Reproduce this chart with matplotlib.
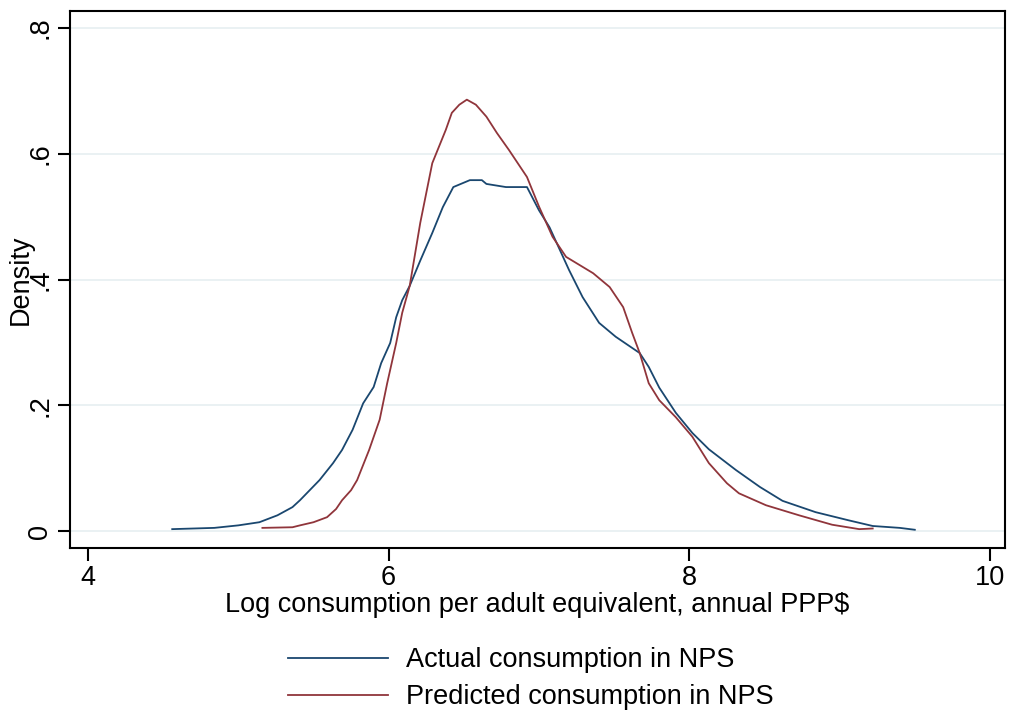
import matplotlib
matplotlib.use("Agg")
import matplotlib.pyplot as plt

# Data
actual_x = [4.56, 4.84, 5.00, 5.14, 5.26, 5.36, 5.41, 5.54, 5.63, 5.69, 5.76, 5.83,
            5.90, 5.95, 6.01, 6.05, 6.09, 6.14, 6.21, 6.29, 6.36, 6.43, 6.54, 6.62,
            6.65, 6.78, 6.92, 7.00, 7.07, 7.20, 7.29, 7.40, 7.51, 7.67, 7.73, 7.80,
            7.91, 8.02, 8.13, 8.31, 8.47, 8.62, 8.84, 9.06, 9.22, 9.40, 9.50]
actual_y = [0.003, 0.005, 0.009, 0.014, 0.025, 0.038, 0.049, 0.081, 0.108, 0.129, 0.161, 0.203,
            0.229, 0.267, 0.299, 0.340, 0.367, 0.390, 0.430, 0.474, 0.515, 0.547, 0.558, 0.558,
            0.552, 0.547, 0.547, 0.510, 0.483, 0.415, 0.372, 0.331, 0.309, 0.283, 0.261, 0.228,
            0.188, 0.156, 0.130, 0.097, 0.070, 0.048, 0.030, 0.017, 0.008, 0.005, 0.002]

pred_x = [5.16, 5.36, 5.41, 5.50, 5.59, 5.65, 5.69, 5.75, 5.79, 5.87, 5.94, 5.99,
          6.05, 6.09, 6.14, 6.21, 6.29, 6.38, 6.42, 6.47, 6.52, 6.58, 6.65, 6.72,
          6.80, 6.92, 7.00, 7.09, 7.18, 7.36, 7.47, 7.56, 7.62, 7.67, 7.73, 7.80,
          7.91, 8.02, 8.13, 8.25, 8.33, 8.51, 8.73, 8.95, 9.13, 9.22]
pred_y = [0.005, 0.006, 0.009, 0.014, 0.022, 0.035, 0.049, 0.065, 0.081, 0.129, 0.177, 0.235,
          0.299, 0.347, 0.390, 0.490, 0.585, 0.638, 0.665, 0.678, 0.686, 0.678, 0.659, 0.633,
          0.606, 0.563, 0.516, 0.468, 0.436, 0.410, 0.388, 0.356, 0.315, 0.283, 0.235, 0.208,
          0.181, 0.150, 0.108, 0.076, 0.060, 0.041, 0.025, 0.010, 0.003, 0.004]

x_ticks = [4, 6, 8, 10]
x_tick_labels = ["4", "6", "8", "10"]
y_ticks = [0, 0.2, 0.4, 0.6, 0.8]
y_tick_labels = ["0", ".2", ".4", ".6", ".8"]

labels = ["Actual consumption in NPS", "Predicted consumption in NPS"]

plt.rcParams['font.family'] = ['Liberation Sans', 'DejaVu Sans']

W, H = 1009, 715
FS = 19.5
fig = plt.figure(figsize=(W / 100, H / 100), dpi=100)
ax = fig.add_axes([70 / W, 1 - 548 / H, (1005 - 70) / W, (548 - 11) / H])

blue = "#1a476f"
red = "#90353b"

for y in y_ticks:
    ax.axhline(y, color="#e8f0f2", lw=1.3, zorder=0)

l1, = ax.plot(actual_x, actual_y, color=blue, lw=1.3, label=labels[0])
l2, = ax.plot(pred_x, pred_y, color=red, lw=1.3, label=labels[1])

ax.set_xlim(3.88, 10.1)
ax.set_ylim(-0.027, 0.827)
ax.set_xticks(x_ticks)
ax.set_xticklabels(x_tick_labels)
ax.set_yticks(y_ticks)
ax.set_yticklabels(y_tick_labels, rotation=90, va="center")

for s in ax.spines.values():
    s.set_linewidth(1.5)
    s.set_color("black")
ax.tick_params(axis="both", direction="out", length=9, width=1.5, labelsize=FS, pad=3)

ax.set_xlabel("Log consumption per adult equivalent, annual PPP$", fontsize=FS, labelpad=1)
ax.set_ylabel("Density", fontsize=FS)
ax.yaxis.set_label_coords((34 - 70) / 935, 0.5)

fig.legend(handles=[l1, l2], labels=labels, loc="upper left",
           bbox_to_anchor=(288 / W, 1 - 647 / H), frameon=False, fontsize=FS,
           handlelength=3.7, handletextpad=0.65, labelspacing=0.42,
           borderpad=0, borderaxespad=0)

fig.savefig("out.png", dpi=100)
